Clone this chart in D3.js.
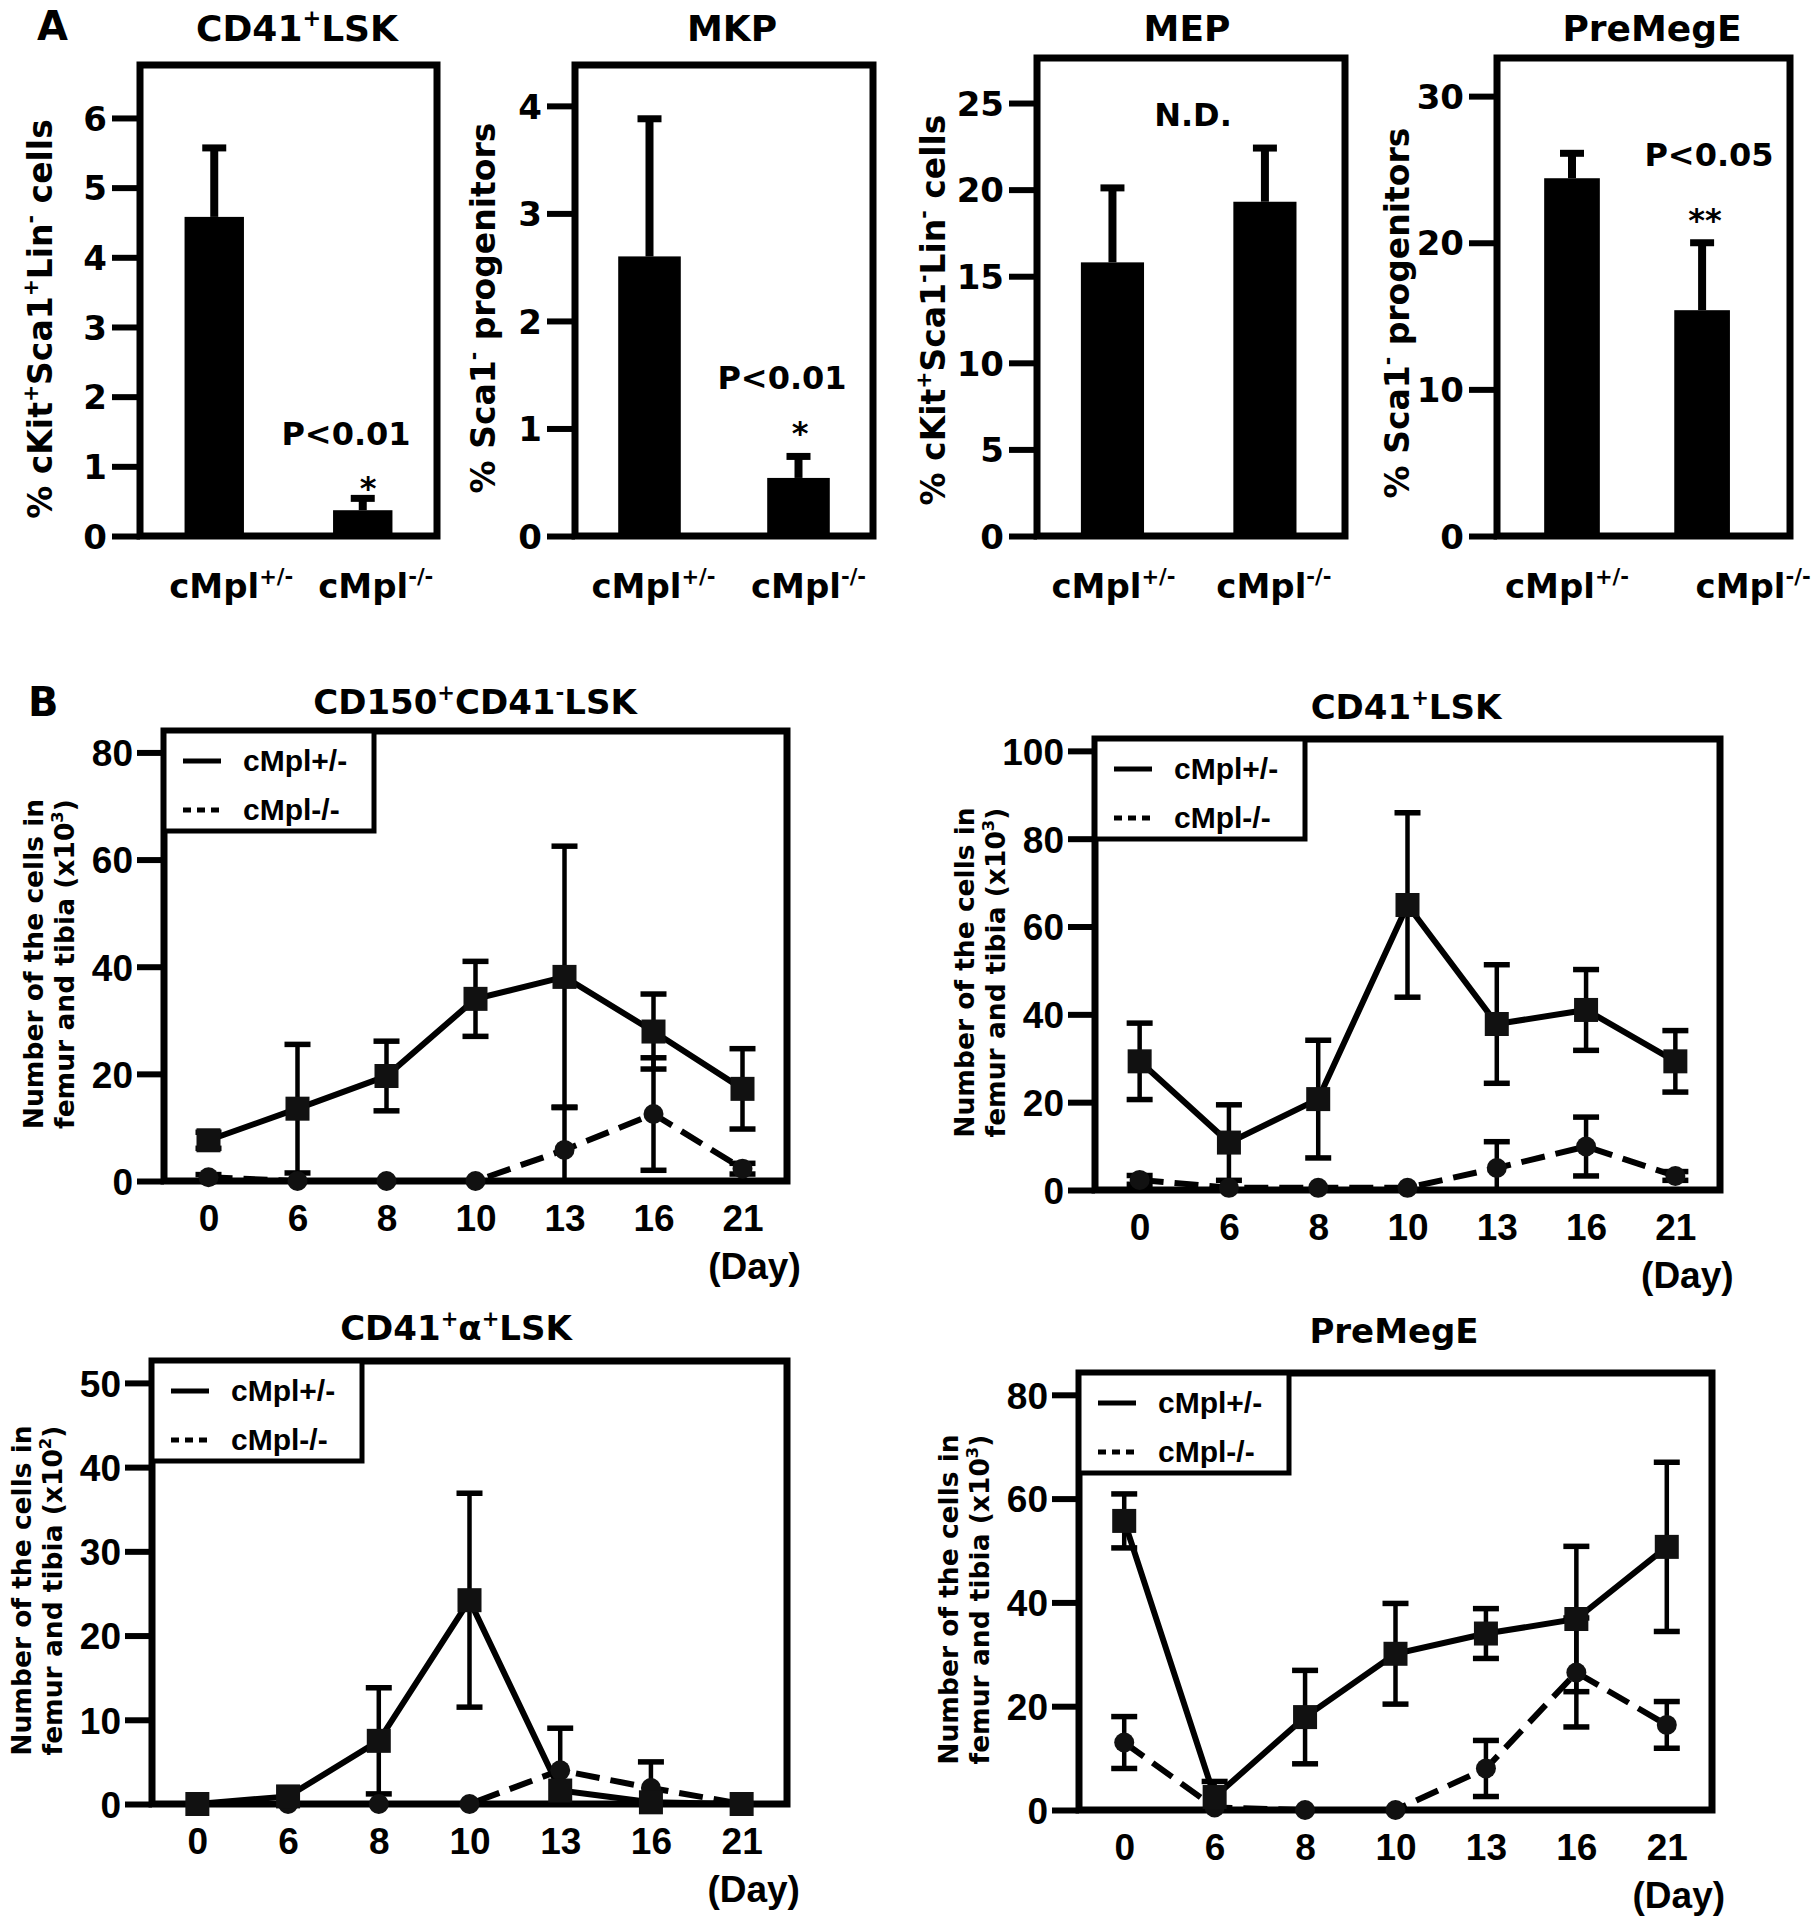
<!DOCTYPE html>
<html><head><meta charset="utf-8">
<script src="https://cdn.jsdelivr.net/npm/d3@7"></script>
<style>body{margin:0;background:#fff}</style>
</head><body><svg id="c" width="1816" height="1920"></svg>
<script>
// ---------------- data ----------------
const groups = ["cMpl+/-", "cMpl-/-"];
const groupLabels = ["cMpl{+/-}", "cMpl{-/-}"];

const cd41lskMean = [4.58, 0.37], cd41lskErr = [0.99, 0.17];
const cd41lskTicks = [0, 1, 2, 3, 4, 5, 6];
const mkpMean = [2.60, 0.54], mkpErr = [1.28, 0.20];
const mkpTicks = [0, 1, 2, 3, 4];
const mepMean = [15.8, 19.3], mepErr = [4.3, 3.1];
const mepTicks = [0, 5, 10, 15, 20, 25];
const premegeMean = [24.4, 15.4], premegeErr = [1.7, 4.6];
const premegeTicks = [0, 10, 20, 30];

const days = ["0", "6", "8", "10", "13", "16", "21"];
const seriesNames = ["cMpl+/-", "cMpl-/-"];
const hscHet = [7.6, 13.5, 19.6, 34.0, 38.1, 27.9, 17.2];
const hscHetErr = [1.5, 12.0, 6.5, 7.0, 24.4, 7.0, 7.5];
const hscKo = [0.7, 0, 0, 0, 5.8, 12.5, 2.3];
const hscKoErr = [0.5, 0, 0, 0, 8.0, 10.5, 1.0];
const lskHet = [29.3, 10.8, 20.7, 64.9, 37.8, 41.0, 29.3];
const lskHetErr = [8.7, 8.6, 13.4, 21.0, 13.5, 9.2, 7.0];
const lskKo = [2.3, 0.5, 0.5, 0.5, 5.0, 9.9, 3.2];
const lskKoErr = [1.0, 0, 0, 0, 6.0, 6.7, 1.0];
const alphaHet = [0, 0.9, 7.5, 24.2, 1.6, 0.2, 0];
const alphaHetErr = [0, 0, 6.3, 12.7, 0, 0, 0];
const alphaKo = [0, 0, 0, 0, 4.0, 1.9, 0];
const alphaKoErr = [0, 0, 0, 0, 5.0, 3.1, 0];
const pmHet = [55.7, 2.5, 17.9, 30.1, 34.0, 36.8, 50.7];
const pmHetErr = [5.2, 3.0, 9.0, 9.7, 4.8, 14.0, 16.3];
const pmKo = [13.0, 0.5, 0, 0, 8.0, 26.5, 16.4];
const pmKoErr = [5.0, 0, 0, 0, 5.4, 10.5, 4.5];
const ticks80 = [0, 20, 40, 60, 80];
const ticks100 = [0, 20, 40, 60, 80, 100];
const ticks50 = [0, 10, 20, 30, 40, 50];

// ---------------- helpers ----------------
const svg = d3.select("#c");
svg.append("rect").attr("width", 1816).attr("height", 1920).attr("fill", "#fff");
const FA = "'DejaVu Sans', sans-serif";
const FB = "'Liberation Sans', Arial, sans-serif";
const intFmt = d3.format("d");

function rich(sel, str, fs) {
  const parts = str.split(/(\{[^}]*\})/).filter(s => s.length);
  const sh = fs * 0.42;
  let shifted = false;
  parts.forEach(p => {
    if (p[0] === "{") {
      sel.append("tspan").attr("dy", -sh).attr("font-size", fs * 0.62).text(p.slice(1, -1));
      shifted = true;
    } else {
      const t = sel.append("tspan").text(p);
      if (shifted) { t.attr("dy", sh); shifted = false; }
    }
  });
  return sel;
}
function txt(g, x, y, str, fs, family, anchor) {
  const t = g.append("text").attr("x", x).attr("y", y)
    .attr("font-family", family).attr("font-weight", "bold")
    .attr("font-size", fs).attr("text-anchor", anchor || "middle").attr("fill", "#000");
  return rich(t, str, fs);
}

// panel letters
txt(svg, 37, 40, "A", 40, FA, "start");
txt(svg, 28, 716, "B", 40, FA, "start");

// ---------------- bar panels (A) ----------------
const barPanels = [
  {title: "CD41{+}LSK", ylab: "% cKit{+}Sca1{+}Lin{-} cells", mean: cd41lskMean, err: cd41lskErr,
   ticks: cd41lskTicks, yMax: 6.76, x0: 140, x1: 437, y0: 65, y1: 536, cl: 0.25, cr: 0.25, bw: 0.20,
   titleX: 297, labX: 40, labY: 319, lblDx: [17, 13],
   notes: [{t: "P<0.01", x: 346, y: 445}, {t: "*", x: 368, y: 499}]},
  {title: "MKP", ylab: "% Sca1{-} progenitors", mean: mkpMean, err: mkpErr,
   ticks: mkpTicks, yMax: 4.38, x0: 575, x1: 873, y0: 65, y1: 536, cl: 0.25, cr: 0.25, bw: 0.21,
   titleX: 732, labX: 483, labY: 308, lblDx: [4, 10],
   notes: [{t: "P<0.01", x: 782, y: 389}, {t: "*", x: 800, y: 444}]},
  {title: "MEP", ylab: "% cKit{+}Sca1{-}Lin{-} cells", mean: mepMean, err: mepErr,
   ticks: mepTicks, yMax: 27.6, x0: 1037, x1: 1345, y0: 58, y1: 536, cl: 0.245, cr: 0.26, bw: 0.205,
   titleX: 1187, labX: 933, labY: 310, lblDx: [1, 9],
   notes: [{t: "N.D.", x: 1193, y: 126}]},
  {title: "PreMegE", ylab: "% Sca1{-} progenitors", mean: premegeMean, err: premegeErr,
   ticks: premegeTicks, yMax: 32.6, x0: 1497, x1: 1790, y0: 58, y1: 536, cl: 0.256, cr: 0.30, bw: 0.19,
   titleX: 1652, labX: 1397, labY: 313, lblDx: [-5, 51],
   notes: [{t: "P<0.05", x: 1709, y: 166}, {t: "**", x: 1705, y: 231}]}
];

barPanels.forEach(p => {
  const g = svg.append("g");
  const W = p.x1 - p.x0;
  const x = d3.scalePoint().domain(groups).range([p.x0 + p.cl * W, p.x1 - p.cr * W]);
  const y = d3.scaleLinear().domain([0, p.yMax]).range([p.y1, p.y0]);
  const bw = p.bw * W;
  const rows = groups.map((k, i) => ({k, m: p.mean[i], e: p.err[i], i}));
  // error bars
  g.selectAll("line.stem").data(rows).join("line")
    .attr("x1", d => x(d.k)).attr("x2", d => x(d.k))
    .attr("y1", d => y(d.m)).attr("y2", d => y(d.m + d.e))
    .attr("stroke", "#000").attr("stroke-width", 8);
  g.selectAll("line.cap").data(rows).join("line")
    .attr("x1", d => x(d.k) - 12).attr("x2", d => x(d.k) + 12)
    .attr("y1", d => y(d.m + d.e)).attr("y2", d => y(d.m + d.e))
    .attr("stroke", "#000").attr("stroke-width", 7);
  // bars
  g.selectAll("rect.bar").data(rows).join("rect")
    .attr("x", d => x(d.k) - bw / 2).attr("width", bw)
    .attr("y", d => y(d.m)).attr("height", d => y(0) - y(d.m)).attr("fill", "#000");
  // frame
  g.append("rect").attr("x", p.x0).attr("y", p.y0).attr("width", W).attr("height", p.y1 - p.y0)
    .attr("fill", "none").attr("stroke", "#000").attr("stroke-width", 7);
  // y axis
  const ax = g.append("g").attr("transform", `translate(${p.x0},0)`)
    .call(d3.axisLeft(y).tickValues(p.ticks).tickFormat(intFmt).tickSize(28).tickPadding(5).tickSizeOuter(0));
  ax.select(".domain").remove();
  ax.selectAll(".tick line").attr("stroke", "#000").attr("stroke-width", 6);
  ax.selectAll(".tick text").attr("font-family", FA).attr("font-weight", "bold")
    .attr("font-size", 34).attr("fill", "#000").attr("dy", "0.36em");
  // title
  txt(g, p.titleX, 41, p.title, 36, FA);
  // y label
  const yl = g.append("text").attr("transform", `translate(${p.labX},${p.labY}) rotate(-90)`)
    .attr("y", 12).attr("font-family", FA).attr("font-weight", "bold").attr("font-size", 33)
    .attr("text-anchor", "middle");
  rich(yl, p.ylab, 33);
  // category labels
  rows.forEach(d => txt(g, x(d.k) + p.lblDx[d.i], 598, groupLabels[d.i], 34, FA));
  // annotations
  p.notes.forEach(n => txt(g, n.x, n.y, n.t, 32, FA));
});

// ---------------- line panels (B) ----------------
const linePanels = [
  {title: "CD150{+}CD41{-}LSK", exp: "3", het: hscHet, hetErr: hscHetErr, ko: hscKo, koErr: hscKoErr,
   ticks: ticks80, yMax: 84, x0: 164, x1: 787, y0: 731, y1: 1181, titleX: 475, titleY: 714},
  {title: "CD41{+}LSK", exp: "3", het: lskHet, hetErr: lskHetErr, ko: lskKo, koErr: lskKoErr,
   ticks: ticks100, yMax: 102.7, x0: 1095, x1: 1720, y0: 739, y1: 1190, titleX: 1406, titleY: 719},
  {title: "CD41{+}α{+}LSK", exp: "2", het: alphaHet, hetErr: alphaHetErr, ko: alphaKo, koErr: alphaKoErr,
   ticks: ticks50, yMax: 52.6, x0: 152, x1: 787, y0: 1361, y1: 1804, titleX: 456, titleY: 1340},
  {title: "PreMegE", exp: "3", het: pmHet, hetErr: pmHetErr, ko: pmKo, koErr: pmKoErr,
   ticks: ticks80, yMax: 84.2, x0: 1079, x1: 1712, y0: 1373, y1: 1810, titleX: 1394, titleY: 1343}
];

linePanels.forEach(p => {
  const g = svg.append("g");
  const W = p.x1 - p.x0;
  const x = d3.scalePoint().domain(days).range([p.x0, p.x1]).padding(0.5);
  const y = d3.scaleLinear().domain([0, p.yMax]).range([p.y1, p.y0]);
  const series = [
    {name: seriesNames[0], vals: p.het, errs: p.hetErr, dash: null},
    {name: seriesNames[1], vals: p.ko, errs: p.koErr, dash: "24,11"}
  ];
  // frame
  g.append("rect").attr("x", p.x0).attr("y", p.y0).attr("width", W).attr("height", p.y1 - p.y0)
    .attr("fill", "none").attr("stroke", "#000").attr("stroke-width", 7);
  // error bars
  series.forEach(s => {
    const eb = days.map((d, i) => ({d, m: s.vals[i], e: s.errs[i]})).filter(o => o.e > 0);
    const eg = g.append("g").attr("stroke", "#000");
    eg.selectAll("line.s").data(eb).join("line")
      .attr("x1", o => x(o.d)).attr("x2", o => x(o.d))
      .attr("y1", o => y(Math.max(0, o.m - o.e))).attr("y2", o => y(o.m + o.e)).attr("stroke-width", 4.5);
    eg.selectAll("line.t").data(eb).join("line")
      .attr("x1", o => x(o.d) - 13).attr("x2", o => x(o.d) + 13)
      .attr("y1", o => y(o.m + o.e)).attr("y2", o => y(o.m + o.e)).attr("stroke-width", 5.5);
    eg.selectAll("line.b").data(eb.filter(o => o.m - o.e > 0.3)).join("line")
      .attr("x1", o => x(o.d) - 13).attr("x2", o => x(o.d) + 13)
      .attr("y1", o => y(o.m - o.e)).attr("y2", o => y(o.m - o.e)).attr("stroke-width", 5.5);
  });
  // lines
  series.slice().reverse().forEach(s => {
    const line = d3.line().x((v, i) => x(days[i])).y(v => y(v));
    g.append("path").datum(s.vals).attr("d", line).attr("fill", "none")
      .attr("stroke", "#000").attr("stroke-width", 6).attr("stroke-dasharray", s.dash);
  });
  // markers
  g.selectAll("circle.ko").data(p.ko).join("circle")
    .attr("cx", (v, i) => x(days[i])).attr("cy", v => y(v)).attr("r", 10).attr("fill", "#111");
  g.selectAll("rect.het").data(p.het).join("rect")
    .attr("x", (v, i) => x(days[i]) - 12).attr("y", v => y(v) - 12)
    .attr("width", 24).attr("height", 24).attr("fill", "#111");
  // legend
  const lg = g.append("g");
  lg.append("rect").attr("x", p.x0).attr("y", p.y0).attr("width", 210).attr("height", 100)
    .attr("fill", "#fff").attr("stroke", "#000").attr("stroke-width", 5);
  series.forEach((s, i) => {
    const ly = p.y0 + 30 + i * 49;
    lg.append("line").attr("x1", p.x0 + 19).attr("x2", p.x0 + 57).attr("y1", ly).attr("y2", ly)
      .attr("stroke", "#000").attr("stroke-width", 5).attr("stroke-dasharray", s.dash ? "8,6" : null);
    lg.append("text").attr("x", p.x0 + 79).attr("y", ly + 10).attr("font-family", FB)
      .attr("font-weight", "bold").attr("font-size", 30).text(s.name);
  });
  // y axis
  const ax = g.append("g").attr("transform", `translate(${p.x0},0)`)
    .call(d3.axisLeft(y).tickValues(p.ticks).tickFormat(intFmt).tickSize(27).tickPadding(4).tickSizeOuter(0));
  ax.select(".domain").remove();
  ax.selectAll(".tick line").attr("stroke", "#000").attr("stroke-width", 6);
  ax.selectAll(".tick text").attr("font-family", FB).attr("font-weight", "bold")
    .attr("font-size", 37).attr("fill", "#000").attr("dy", "0.36em");
  // x axis labels
  const bx = g.append("g").attr("transform", `translate(0,${p.y1})`)
    .call(d3.axisBottom(x).tickSize(0).tickPadding(24));
  bx.select(".domain").remove();
  bx.selectAll(".tick text").attr("font-family", FB).attr("font-weight", "bold")
    .attr("font-size", 37).attr("fill", "#000").attr("dy", "0.71em");
  txt(g, x("21") + 12, p.y1 + 98, "(Day)", 37, FB);
  // title
  txt(g, p.titleX, p.titleY, p.title, 34, FA);
  // y label (two lines)
  const cy = (p.y0 + p.y1) / 2 + 8;
  g.append("text").attr("transform", `translate(${p.x0 - 131},${cy}) rotate(-90)`)
    .attr("y", 10).attr("font-family", FA).attr("font-weight", "bold").attr("font-size", 26.5)
    .attr("text-anchor", "middle").text("Number of the cells in");
  const l2 = g.append("text").attr("transform", `translate(${p.x0 - 100},${cy}) rotate(-90)`)
    .attr("y", 10).attr("font-family", FA).attr("font-weight", "bold").attr("font-size", 26.5)
    .attr("text-anchor", "middle");
  rich(l2, "femur and tibia (x10{" + p.exp + "})", 26.5);
});
</script>
</body></html>
